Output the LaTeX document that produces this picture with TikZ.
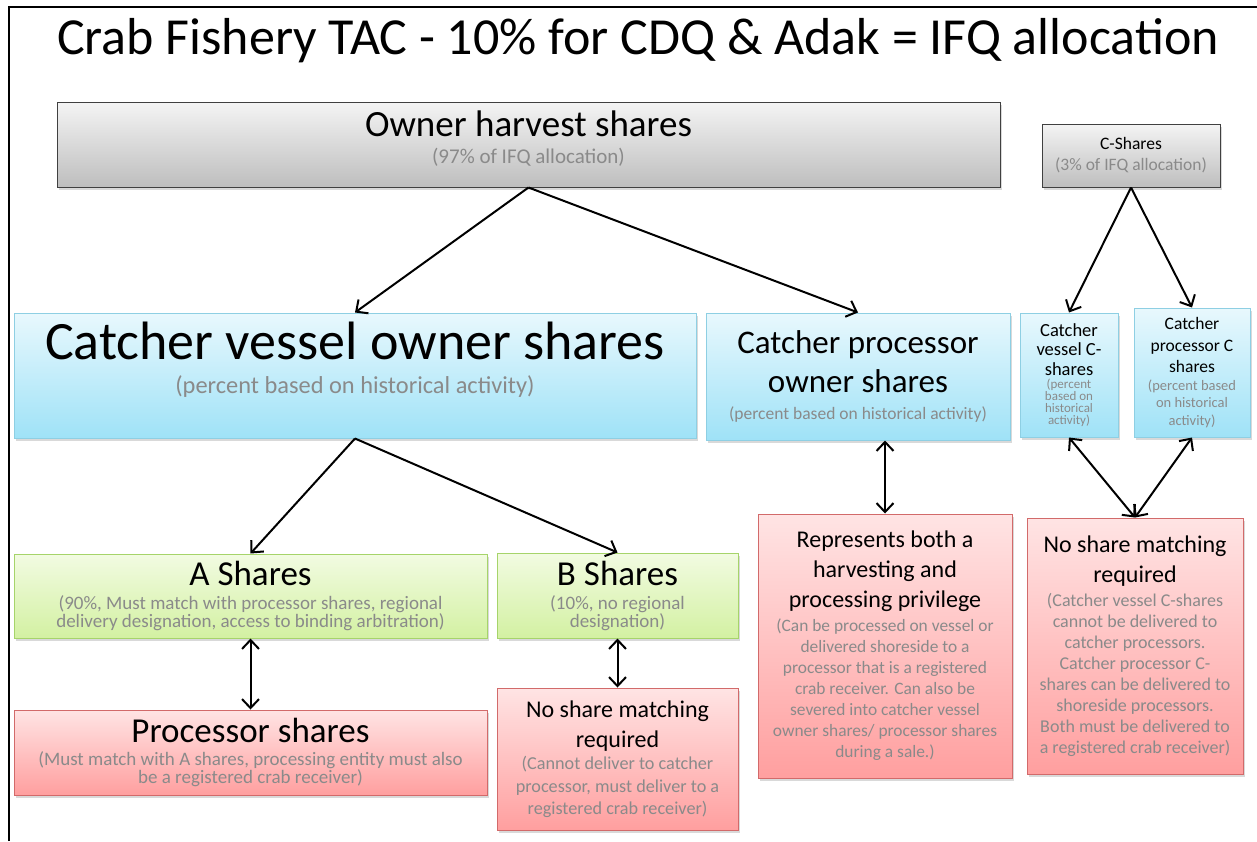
\documentclass[tikz,border=0pt]{standalone}
\usepackage{fontspec}
\setmainfont{Carlito}
\usepackage{xcolor}
\usetikzlibrary{arrows.meta, shadows, calc}

\definecolor{subgray}{HTML}{8A8A8A}
\definecolor{graytop}{HTML}{F4F4F4}
\definecolor{graybot}{HTML}{BEBEBE}
\definecolor{bluetop}{HTML}{E8F8FD}
\definecolor{bluebot}{HTML}{9FE2F7}
\definecolor{blueedge}{HTML}{8ECFE3}
\definecolor{greentop}{HTML}{F2FBE2}
\definecolor{greenbot}{HTML}{D3F1A2}
\definecolor{greenedge}{HTML}{A6D46A}
\definecolor{redtop}{HTML}{FFE4E4}
\definecolor{redbot}{HTML}{FF9F9F}
\definecolor{rededge}{HTML}{D26A6A}
\newcommand{\fs}[2]{\fontsize{#1}{#2}\selectfont}
\newcommand{\hdtxt}[3]{{\centering\fontsize{#1}{#2}\selectfont\spaceskip=0pt\xspaceskip=0pt #3\par}}
\newcommand{\subtxt}[4][0pt]{\vspace{#1}{\centering\fontsize{#2}{#3}\selectfont\spaceskip=0pt\xspaceskip=0pt\color{subgray}#4\par}}

\begin{document}
\begin{tikzpicture}[x=1pt, y=-1pt,
  sharebox/.style={draw, align=center, inner sep=2pt, line width=1pt,
               drop shadow={shadow xshift=2pt, shadow yshift=-2.5pt, opacity=0.3}},
  graybox/.style={sharebox, draw=black!75, top color=graytop, bottom color=graybot},
  bluebox/.style={sharebox, draw=blueedge, top color=bluetop, bottom color=bluebot},
  greenbox/.style={sharebox, draw=greenedge, top color=greentop, bottom color=greenbot},
  redbox/.style={sharebox, draw=rededge, top color=redtop, bottom color=redbot},
  arr/.style={-{Straight Barb[length=9pt, width=17pt, line width=2pt]}, line width=2pt},
  dblarr/.style={{Straight Barb[length=9pt, width=17pt, line width=2pt]}-{Straight Barb[length=9pt, width=17pt, line width=2pt]}, line width=2pt},
]
  \useasboundingbox (0,0) rectangle (1257,841);
  \draw[line width=2.5pt] (9,841) -- (9,7) -- (1257,7);

  \node (title) at (638,41) {\fs{52}{60}Crab Fishery TAC - 10\% for CDQ \& Adak = IFQ allocation};

  % Top level
  \node[graybox, text width=930pt, text depth=42pt, minimum width=943pt, minimum height=85pt] (owner) at (528.5,144.5)
    {\hdtxt{37}{44}{Owner harvest shares}\subtxt{21}{27}{(97\% of IFQ allocation)}};
  \node[graybox, text width=170pt, minimum width=178pt, minimum height=63pt] (cshr) at (1131,155.5)
    {\hdtxt{17.5}{20}{C-Shares}\subtxt{17.5}{21}{(3\% of IFQ allocation)}};

  % Owner shares
  \node[bluebox, text width=670pt, text depth=70pt, minimum width=682pt, minimum height=125pt] (cvown) at (355,375.5)
    {\hdtxt{54}{60}{Catcher vessel owner shares}\subtxt{24.4}{34}{(percent based on historical activity)}};
  \node[bluebox, text width=296pt, minimum width=304pt, minimum height=127pt] (cpown) at (858,376.5)
    {\hdtxt{33}{39}{Catcher processor\\owner shares}\subtxt{17.5}{27}{(percent based on historical activity)}};
  \node[bluebox, text width=94pt, minimum width=98pt, minimum height=124pt] (cvc) at (1069,375)
    {\hdtxt{18.5}{19.5}{Catcher\\vessel C-\\shares}\subtxt[1.5pt]{13}{12}{(percent\\based on\\historical\\activity)}};
  \node[bluebox, text width=112pt, minimum width=116pt, minimum height=129pt] (cpc) at (1192,372.5)
    {\hdtxt{17.5}{21.5}{Catcher\\processor C\\shares}\subtxt{14.5}{17.5}{(percent based\\on historical\\activity)}};

  % A / B shares
  \node[greenbox, text width=469pt, minimum width=473pt, minimum height=84pt] (ashr) at (250.5,596)
    {\hdtxt{35}{40}{A Shares}\subtxt[6pt]{19}{18}{(90\%, Must match with processor shares, regional\\delivery designation, access to binding arbitration)}};
  \node[greenbox, text width=237pt, minimum width=241pt, minimum height=85pt] (bshr) at (617.5,595.5)
    {\hdtxt{35}{40}{B Shares}\subtxt[6pt]{19}{18}{(10\%, no regional\\designation)}};

  % Matching
  \node[redbox, text width=469pt, minimum width=473pt, minimum height=85pt] (procshr) at (250.5,752.5)
    {\hdtxt{35}{40}{Processor shares}\subtxt[5pt]{19}{18}{(Must match with A shares, processing entity must also\\be a registered crab receiver)}};
  \node[redbox, text width=237pt, minimum width=241pt, minimum height=142pt] (bmatch) at (617.5,759)
    {\hdtxt{24}{30}{No share matching\\required}\subtxt{18.2}{22.5}{(Cannot deliver to catcher\\processor, must deliver to a\\registered crab receiver)}};
  \node[redbox, text width=250pt, minimum width=254pt, minimum height=264pt] (cpboth) at (885,646)
    {\hdtxt{24}{30}{Represents both a\\harvesting and\\processing privilege}\subtxt[3pt]{17.4}{21}{(Can be processed on vessel or\\delivered shoreside to a\\processor that is a registered\\crab receiver. Can also be\\severed into catcher vessel\\owner shares/ processor shares\\during a sale.)}};
  \node[redbox, text width=212pt, minimum width=216pt, minimum height=256pt] (cmatch) at (1135,646)
    {\hdtxt{24}{30}{No share matching\\required}\subtxt[3pt]{18}{21}{(Catcher vessel C-shares\\cannot be delivered to\\catcher processors.\\Catcher processor C-\\shares can be delivered to\\shoreside processors.\\Both must be delivered to\\a registered crab receiver)}};

  \foreach \i/\j in {owner/cvown, owner/cpown, cshr/cvc, cshr/cpc, cvown/ashr, cvown/bshr} {
    \draw[arr] (\i.south) -- (\j.north);
  }
  \foreach \i/\j in {ashr/procshr, bshr/bmatch, cvc/cmatch, cpc/cmatch} {
    \draw[dblarr] (\i.south) -- (\j.north);
  }
  \draw[dblarr] (cpown.south -| cpboth.north) -- (cpboth.north);
\end{tikzpicture}
\end{document}
